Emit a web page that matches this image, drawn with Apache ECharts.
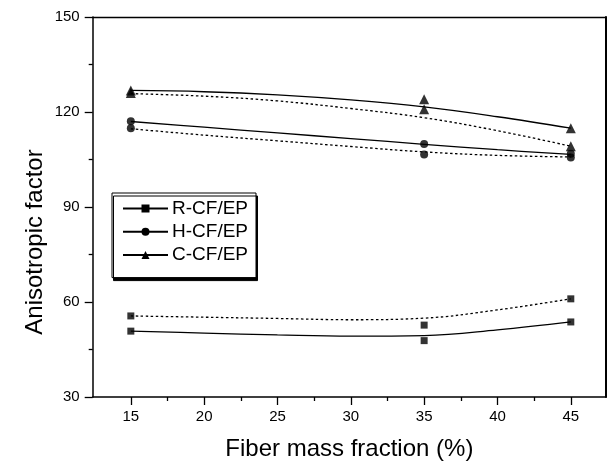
<!DOCTYPE html>
<html>
<head>
<meta charset="utf-8">
<script src="https://cdn.jsdelivr.net/npm/echarts@6/dist/echarts.min.js"></script>
<style>html,body{margin:0;padding:0;background:#fff}#c{width:612px;height:466px}</style>
</head>
<body>
<div id="c"></div>
<script>
// ---- data ----
const xTicksMajor = [15, 20, 25, 30, 35, 40, 45];
const xTicksMinor = [17.5, 22.5, 27.5, 32.5, 37.5, 42.5];
const xPoints = [15, 35, 45];
const rPointsA = [50.8, 47.8, 53.7];
const rPointsB = [55.6, 52.7, 61.0];
const hPointsA = [117.1, 109.9, 106.8];
const hPointsB = [114.9, 106.6, 105.6];
const cPointsA = [126.8, 124.0, 114.9];
const cPointsB = [126.0, 120.9, 109.2];
// fitted curves
const xCurve = [15, 20, 25, 30, 35, 40, 45];
const rCurveSolid = [50.8, 50.2, 49.6, 49.2, 49.4, 51.2, 53.7];
const rCurveDotted = [55.6, 55.2, 54.8, 54.4, 54.9, 57.5, 61.0];
const hCurveSolid = [117.0, 115.2, 113.4, 111.6, 109.8, 108.1, 106.6];
const hCurveDotted = [114.7, 112.7, 110.9, 109.1, 107.4, 106.3, 105.8];
const cCurveSolid = [126.8, 126.4, 125.4, 123.8, 121.6, 118.5, 114.9];
const cCurveDotted = [125.8, 125.0, 123.5, 121.1, 118.2, 114.1, 109.2];
const legendNames = ['R-CF/EP', 'H-CF/EP', 'C-CF/EP'];

const FONT = '"Liberation Sans", Arial, Helvetica, sans-serif';
const zip = (xs, ys) => xs.map((x, i) => [x, ys[i]]);

function curve(ys, dotted) {
  return {
    type: 'line', data: zip(xCurve, ys), smooth: 0.4, showSymbol: false, symbol: 'none',
    lineStyle: { color: '#000', width: 1.3, type: dotted ? [2.5, 2.5] : 'solid' },
    silent: true, z: 2
  };
}
function pts(ys, sym, size) {
  return {
    type: 'scatter', data: zip(xPoints, ys), symbol: sym, symbolSize: size,
    itemStyle: { color: '#000' }, z: 3
  };
}
function legendSeries(name, sym, size) {
  return {
    name: name, type: 'line', data: [], symbol: sym, symbolSize: size,
    itemStyle: { color: '#000' }, lineStyle: { color: '#000', width: 1.3 }
  };
}

const chart = echarts.init(document.getElementById('c'), null, { renderer: 'canvas' });
chart.setOption({
  animation: false,
  backgroundColor: '#fff',
  textStyle: { fontFamily: FONT },
  grid: { left: 92.7, top: 17, right: 6, bottom: 63 },
  legend: {
    data: legendNames,
    orient: 'vertical',
    left: 112, top: 193,
    padding: [6, 8, 13, 10],
    itemWidth: 45, itemHeight: 10, itemGap: 4.3,
    backgroundColor: '#fff', borderColor: '#000', borderWidth: 1,
    shadowColor: '#000', shadowBlur: 0, shadowOffsetX: 1.5, shadowOffsetY: 3,
    textStyle: { fontSize: 19, lineHeight: 19, color: '#000', fontFamily: FONT, padding: [0, 0, 0, -1] },
    selectedMode: false
  },
  xAxis: [
    {
      type: 'value', min: 12.4, max: 47.4, position: 'bottom',
      axisLine: { lineStyle: { color: '#000', width: 1.5 } },
      axisTick: { customValues: xTicksMajor, length: 8, lineStyle: { color: '#000', width: 1.3 } },
      axisLabel: { customValues: xTicksMajor, fontSize: 15, color: '#000', margin: 12, fontFamily: FONT },
      splitLine: { show: false },
      name: 'Fiber mass fraction (%)', nameLocation: 'middle', nameGap: 40,
      nameTextStyle: { fontSize: 24, color: '#000', fontFamily: FONT }
    },
    {
      type: 'value', min: 12.4, max: 47.4, position: 'bottom',
      axisLine: { show: false },
      axisTick: { customValues: xTicksMinor, length: 4, lineStyle: { color: '#000', width: 1.3 } },
      axisLabel: { show: false }, splitLine: { show: false }
    },
    {
      type: 'value', min: 12.4, max: 47.4, position: 'top',
      axisLine: { lineStyle: { color: '#000', width: 1.3 } },
      axisTick: { show: false }, axisLabel: { show: false }, splitLine: { show: false }
    }
  ],
  yAxis: [
    {
      type: 'value', min: 30, max: 150, interval: 30, position: 'left',
      axisLine: { show: true, lineStyle: { color: '#000', width: 1.5 } },
      axisTick: { show: true, length: 8, lineStyle: { color: '#000', width: 1.3 } },
      minorTick: { show: true, splitNumber: 2, length: 4, lineStyle: { color: '#000', width: 1.3 } },
      axisLabel: { fontSize: 15, color: '#000', margin: 13, fontFamily: FONT },
      splitLine: { show: false }
    },
    {
      type: 'value', min: 30, max: 150, position: 'right',
      axisLine: { show: true, lineStyle: { color: '#000', width: 2 } },
      axisTick: { show: false }, axisLabel: { show: false }, splitLine: { show: false }
    }
  ],
  graphic: [
    {
      type: 'text', x: 35, y: 242, rotation: Math.PI / 2,
      style: { text: 'Anisotropic factor', font: '24px ' + FONT, fill: '#000', align: 'center', verticalAlign: 'middle' }
    }
  ],
  series: [
    curve(rCurveSolid, false), curve(rCurveDotted, true),
    curve(hCurveSolid, false), curve(hCurveDotted, true),
    curve(cCurveSolid, false), curve(cCurveDotted, true),
    pts(rPointsA, 'rect', 7), pts(rPointsB, 'rect', 7),
    pts(hPointsA, 'circle', 8), pts(hPointsB, 'circle', 8),
    pts(cPointsA, 'triangle', 10), pts(cPointsB, 'triangle', 10),
    legendSeries(legendNames[0], 'rect', 7),
    legendSeries(legendNames[1], 'circle', 8),
    legendSeries(legendNames[2], 'triangle', 10)
  ]
});
</script>
</body>
</html>
